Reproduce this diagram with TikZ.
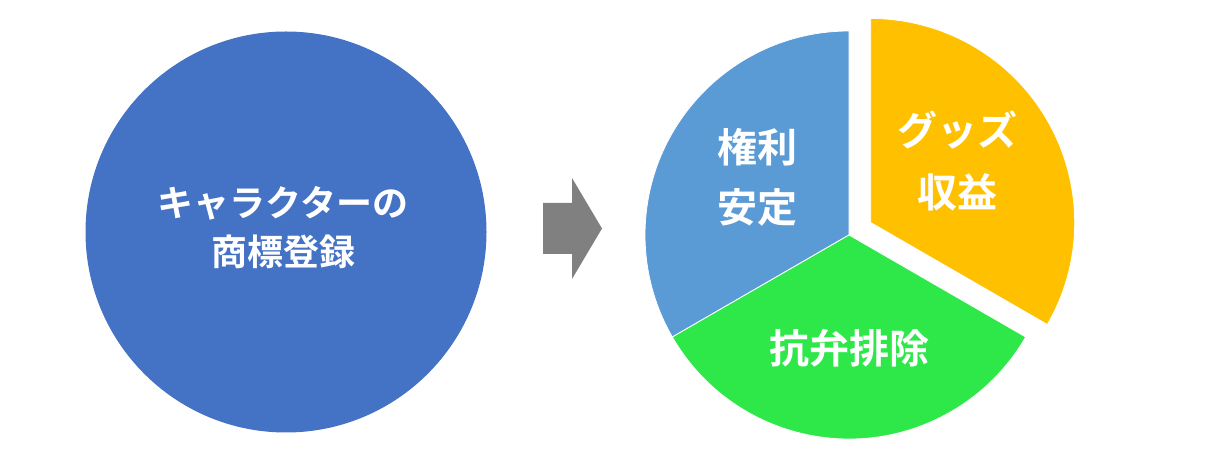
\documentclass[tikz,border=0pt]{standalone}
\usepackage{fontspec}
\newfontfamily\jpfont{Noto Sans CJK JP}[BoldFont={Noto Sans CJK JP Bold}]
\usetikzlibrary{calc}

\definecolor{markblue}{HTML}{4472C4}
\definecolor{pieblue}{HTML}{5B9BD5}
\definecolor{piegreen}{HTML}{2EE84A}
\definecolor{pieyellow}{HTML}{FFC000}
\definecolor{arrowgray}{HTML}{808080}

\begin{document}
\begin{tikzpicture}[
		x=1pt,y=1pt,
		slicetext/.style={text=white,align=center,font=\jpfont\bfseries\fontsize{40}{60}\selectfont},
		slice/.style={draw=white,line width=0.8pt}]
		\useasboundingbox (0,0) rectangle (1222,454);

		% left: the mark
		\node[circle,fill=markblue,minimum size=401pt,inner sep=0pt] (mark) at (286,222) {};
		\node[slicetext,font=\jpfont\bfseries\fontsize{36}{49}\selectfont] (marktext) at (283,226) {キャラクターの\\商標登録};

		% block arrow
		\fill[arrowgray] (543,251) -- (572,251) -- (572,276) -- (602,225.5)
			-- (572,175) -- (572,200) -- (543,200) -- cycle;

		% right: the pie
		\coordinate (c) at (849,219);
		\coordinate (cy) at ($ (c)+(30:25) $);
		\filldraw[slice,fill=pieblue] (c) -- ++(90:204) arc[start angle=90,end angle=210,radius=204] -- cycle;
		\filldraw[slice,fill=piegreen] (c) -- ++(210:204) arc[start angle=210,end angle=330,radius=204] -- cycle;
		\filldraw[slice,fill=pieyellow] (cy) -- ++(-30:204) arc[start angle=-30,end angle=90,radius=204] -- cycle;

		\node[slicetext] (right) at (757,277) {権利\\安定};
		\node[slicetext,font=\jpfont\bfseries\fontsize{40}{62}\selectfont] (goods) at (957,293) {グッズ\\収益};
		\node[slicetext] (defence) at (849,106) {抗弁排除};
\end{tikzpicture}
\end{document}
